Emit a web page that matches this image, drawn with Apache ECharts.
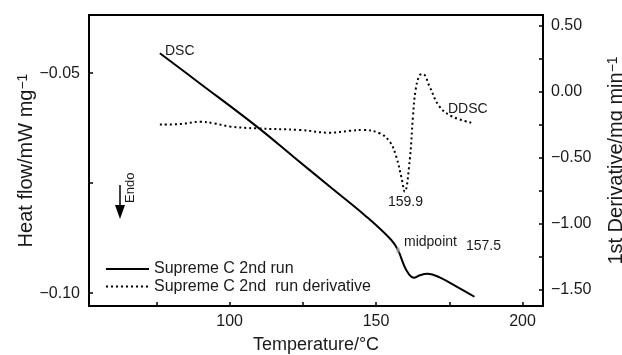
<!DOCTYPE html>
<html>
<head>
<meta charset="utf-8">
<script src="https://cdn.jsdelivr.net/npm/echarts@6/dist/echarts.min.js"></script>
<style>
  html, body { margin: 0; padding: 0; background: #fff; }
  #chart { width: 622px; height: 355px; }
</style>
</head>
<body>
<div id="chart"></div>
<script>
// DSC heat flow (left axis)
var dscTemp = [76.2, 90, 109.2, 122, 134.8, 146.7, 155.2, 157.5, 160.3, 162.9, 165.0, 167.7, 171.7, 177.5, 183.6];
var dscHeat = [-0.0455, -0.0524, -0.0621, -0.0691, -0.0761, -0.0826, -0.0879, -0.0902, -0.0947, -0.0965, -0.0959, -0.0956, -0.0964, -0.0985, -0.1008];

// DDSC derivative (right axis)
var ddscTemp = [76.2, 83.1, 89.9, 95.0, 100.1, 109.2, 124.0, 134.2, 141.0, 145.6, 151.2, 154.7, 156.9, 158.6, 159.8, 161.5, 162.6, 163.5, 164.9, 166.0, 168.3, 171.7, 176.2, 182.5];
var ddscDeriv = [-0.248, -0.244, -0.227, -0.240, -0.263, -0.277, -0.289, -0.310, -0.295, -0.289, -0.314, -0.378, -0.491, -0.642, -0.756, -0.516, -0.189, 0.013, 0.126, 0.134, 0.038, -0.113, -0.189, -0.234];

var midpoint = [157.5, -0.0902];

var xTicks = [75, 100, 125, 150, 175, 200];
var xLabels = [100, 150, 200];
var leftTicks = [-0.1, -0.075, -0.05];
var leftLabels = [-0.1, -0.05];
var rightTicks = [-1.5, -1.25, -1, -0.75, -0.5, -0.25, 0, 0.25, 0.5];
var rightLabels = [-1.5, -1, -0.5, 0, 0.5];

var seriesNames = ['Supreme C 2nd run', 'Supreme C 2nd  run derivative'];

function pairs(xs, ys) {
  return xs.map(function(x, i) { return [x, ys[i]]; });
}
function fmt(v, d) {
  var s = Math.abs(v).toFixed(d);
  return (v < 0 ? '\u2212' : '') + s;
}

var font = 'Liberation Sans, Arial, sans-serif';
var ink = '#1a1a1a';

var chart = echarts.init(document.getElementById('chart'), null, { renderer: 'canvas' });
chart.setOption({
  animation: false,
  textStyle: { fontFamily: font, color: ink },
  grid: { left: 89, right: 79, top: 15, bottom: 49, show: true, borderColor: '#000', borderWidth: 2,
    containLabel: false, outerBoundsMode: 'none' },
  xAxis: {
    type: 'value', min: 52, max: 207,
    name: 'Temperature/\u00b0C', nameLocation: 'middle', nameGap: 30, nameMoveOverlap: false,
    nameTextStyle: { fontSize: 18, color: ink, fontFamily: font },
    axisLine: { onZero: false, lineStyle: { color: '#000', width: 2 } },
    axisTick: { inside: true, length: 4, customValues: xTicks, lineStyle: { color: '#000', width: 1.5 } },
    axisLabel: { customValues: xLabels, fontSize: 16, color: ink, margin: 8, fontFamily: font },
    splitLine: { show: false }
  },
  yAxis: [{
    type: 'value', min: -0.1029, max: -0.0368, position: 'left',
    name: 'Heat flow/mW mg{sup|\u22121}', nameLocation: 'middle', nameGap: 53, nameMoveOverlap: false,
    nameTextStyle: { fontSize: 20, color: ink, fontFamily: font,
      rich: { sup: { fontSize: 14, verticalAlign: 'top', color: ink, fontFamily: font } } },
    axisLine: { show: true, onZero: false, lineStyle: { color: '#000', width: 2 } },
    axisTick: { show: true, inside: true, length: 4, customValues: leftTicks, lineStyle: { color: '#000', width: 1.5 } },
    axisLabel: { customValues: leftLabels, fontSize: 16, color: ink, margin: 9, fontFamily: font,
      formatter: function(v) { return fmt(v, 2); } },
    splitLine: { show: false }
  }, {
    type: 'value', min: -1.621, max: 0.581, position: 'right',
    name: '1st Derivative/mg min{sup|\u22121}', nameLocation: 'middle', nameGap: 63, nameMoveOverlap: false,
    nameTextStyle: { fontSize: 20, color: ink, fontFamily: font,
      rich: { sup: { fontSize: 14, verticalAlign: 'top', color: ink, fontFamily: font } } },
    axisLine: { show: true, onZero: false, lineStyle: { color: '#000', width: 2 } },
    axisTick: { show: true, inside: true, length: 4, customValues: rightTicks, lineStyle: { color: '#000', width: 1.5 } },
    axisLabel: { customValues: rightLabels, fontSize: 16, color: ink, margin: 8, fontFamily: font,
      formatter: function(v) { return fmt(v, 2); } },
    splitLine: { show: false }
  }],
  legend: {
    data: seriesNames, orient: 'vertical', left: 100, top: 256,
    itemWidth: 43, itemHeight: 14, itemGap: 1.5,
    itemStyle: { opacity: 0 },
    textStyle: { fontSize: 16, color: ink, fontFamily: font }
  },
  series: [{
    name: seriesNames[0], type: 'line', yAxisIndex: 0,
    data: pairs(dscTemp, dscHeat), smooth: 0.4, showSymbol: false, symbol: 'none',
    lineStyle: { color: '#000', width: 2 }, itemStyle: { color: '#000' }
  }, {
    name: seriesNames[1], type: 'line', yAxisIndex: 1,
    data: pairs(ddscTemp, ddscDeriv), smooth: 0.4, showSymbol: false, symbol: 'none',
    lineStyle: { color: '#000', width: 2, type: [2, 3] }, itemStyle: { color: '#000' }
  }, {
    type: 'scatter', yAxisIndex: 0, data: [midpoint],
    symbol: 'rect', symbolSize: [3, 5], itemStyle: { color: '#999' }, z: 5
  }],
  graphic: [
    { type: 'text', left: 165, top: 44, style: { text: 'DSC', font: '14px ' + font, fill: ink } },
    { type: 'text', left: 448, top: 102, style: { text: 'DDSC', font: '14px ' + font, fill: ink } },
    { type: 'text', left: 388, top: 195, style: { text: '159.9', font: '14px ' + font, fill: ink } },
    { type: 'text', left: 404, top: 235, style: { text: 'midpoint', font: '14px ' + font, fill: ink } },
    { type: 'text', left: 466, top: 239, style: { text: '157.5', font: '14px ' + font, fill: ink } },
    { type: 'line', shape: { x1: 120, y1: 185, x2: 120, y2: 207 }, style: { stroke: '#000', lineWidth: 1.5 } },
    { type: 'polygon', shape: { points: [[115, 205], [125, 205], [120, 219]] }, style: { fill: '#000' } },
    { type: 'text', x: 124, y: 203, rotation: Math.PI / 2,
      style: { text: 'Endo', font: '13px ' + font, fill: ink, textAlign: 'left', textVerticalAlign: 'top' } }
  ]
});
</script>
</body>
</html>
